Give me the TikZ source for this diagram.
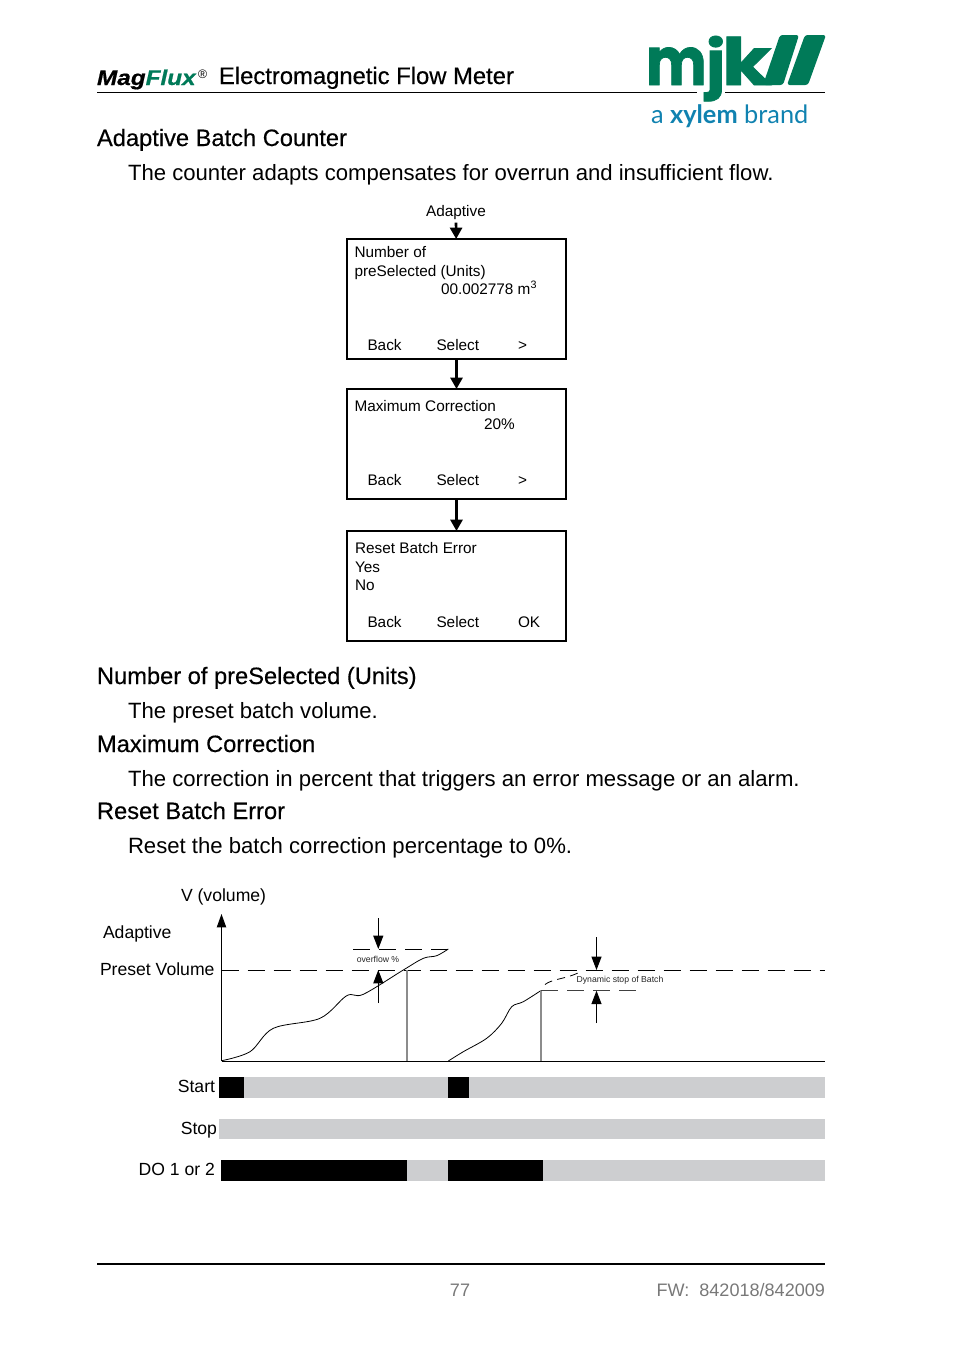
\documentclass[tikz,border=0pt]{standalone}
\usepackage{fontspec}
\setmainfont{Liberation Sans}
\newfontfamily\headfont[FakeBold=0.4]{Liberation Sans}
\newfontfamily\logofont[FakeBold=1.2]{Poppins}
\newfontfamily\brandfont[FakeBold=0.6]{Liberation Sans}
\newfontfamily\xylemfont{Lato}
\usetikzlibrary{arrows.meta}
\definecolor{mjkgreen}{RGB}{0,122,88}
\definecolor{xylemblue}{RGB}{16,130,176}
\definecolor{bargrey}{RGB}{205,206,208}
\definecolor{footgrey}{RGB}{120,120,120}
\tikzset{
  every node/.style={inner sep=0pt, outer sep=0pt},
  pagehead/.style={anchor=base west, font=\headfont\fontsize{17.75}{20}\selectfont},
  pagetext/.style={anchor=base west, font=\fontsize{16.6}{20}\selectfont},
  boxtext/.style={anchor=base west, font=\fontsize{11.5}{14}\selectfont},
  chartlabel/.style={font=\fontsize{13.2}{15}\selectfont},
  tinylabel/.style={font=\fontsize{6.5}{8}\selectfont, text=black!85},
  logoletter/.style={anchor=base west, text=mjkgreen, text depth=0pt, font=\logofont\bfseries\fontsize{50}{50}\selectfont},
  menubox/.style={draw, line width=1.5pt, minimum width=164pt},
  flowarrow/.style={line width=2pt, -{Triangle[length=8.5pt, width=9pt]}},
  markarrow/.style={line width=.7pt, -{Triangle[length=10pt, width=7.5pt]}},
  curveline/.style={line width=.6pt, line join=round},
  presetdash/.style={line width=.7pt, dash pattern=on 12.75pt off 6.75pt},
  cutline/.style={line width=1pt, black!45},
  barrow/.style={fill=bargrey},
  baron/.style={fill=black}
}
\begin{document}
\begin{tikzpicture}[x=.75pt, y=-.75pt]
  \useasboundingbox (0,0) rectangle (954,1354);

  % header
  \node[anchor=base west, font=\brandfont\fontsize{16}{18}\selectfont\bfseries\itshape] (brand) at (97,85)
    {\scalebox{1.14}[1]{Mag\textcolor{mjkgreen}{Flux}}};
  \node[anchor=base west, font=\fontsize{9.2}{10}\selectfont] (regmark) at (198,78) {®};
  \node[pagehead, font=\headfont\fontsize{17.85}{20}\selectfont] (title) at (219,84) {Electromagnetic Flow Meter};
  \coordinate (ruleA) at (97,92);
  \coordinate (ruleB) at (697,92);
  \coordinate (ruleC) at (725,92);
  \coordinate (ruleD) at (825,92);
  \draw[line width=.75pt] (ruleA) -- (ruleB) (ruleC) -- (ruleD);

  % logo
  \node[logoletter] (logom) at (646,85) {\scalebox{.86}[1]{m}};
  \node[logoletter] (logoj) at (706,85) {\scalebox{1}[.92]{j}};
  \node[logoletter] (logok) at (722,85) {\scalebox{1.2}[.98]{k}};
  \fill[mjkgreen, rounded corners=2pt] (780,35) -- (799,35) -- (783,85) -- (763,85) -- cycle;
  \fill[mjkgreen, rounded corners=2pt] (805,35) -- (826,35) -- (808,85) -- (787,85) -- cycle;
  \node[anchor=base west, text=xylemblue, font=\xylemfont\fontsize{19}{20}\selectfont] (xylem) at (651,123)
    {a \textbf{xylem} brand};

  % page text
  \node[pagehead] (headbatch) at (97,146) {Adaptive Batch Counter};
  \node[pagetext] (textbatch) at (128,180) {The counter adapts compensates for overrun and insufficient flow.};
  \node[pagehead] (headunits) at (97,684) {Number of preSelected (Units)};
  \node[pagetext] (textunits) at (128,718) {The preset batch volume.};
  \node[pagehead] (headmax) at (97,752) {Maximum Correction};
  \node[pagetext] (textmax) at (128,786) {The correction in percent that triggers an error message or an alarm.};
  \node[pagehead] (headreset) at (97,819) {Reset Batch Error};
  \node[pagetext] (textreset) at (128,853) {Reset the batch correction percentage to 0\%.};

  % menu flow
  \node[anchor=base, font=\fontsize{11.5}{14}\selectfont] (adaptive) at (456,216) {Adaptive};
  \node[menubox, minimum height=90pt] (number) at (456.5,299) {};
  \node[menubox, minimum height=82.5pt] (maxcorr) at (456.5,444) {};
  \node[menubox, minimum height=82.5pt] (resetbox) at (456.5,586) {};
  \draw[flowarrow, shorten <=2.5pt] (adaptive) -- (number);
  \draw[flowarrow] (number) -- (maxcorr);
  \draw[flowarrow] (maxcorr) -- (resetbox);

  \node[boxtext] (numA) at (354.5,257) {Number of};
  \node[boxtext] (numB) at (354.5,276) {preSelected (Units)};
  \node[boxtext] (numC) at (441,294) {00.002778 m\textsuperscript{3}};
  \node[boxtext] (maxA) at (354.5,411) {Maximum Correction};
  \node[boxtext] (maxB) at (484,429) {20\%};
  \node[boxtext] (resA) at (355,553) {Reset Batch Error};
  \node[boxtext] (resB) at (355,572) {Yes};
  \node[boxtext] (resC) at (355,590) {No};
  \foreach \y/\name/\last in {350/a/>, 485/b/>, 627/c/OK} {
    \node[boxtext] (back\name) at (367.5,\y) {Back};
    \node[boxtext] (select\name) at (436.5,\y) {Select};
    \node[boxtext] (soft\name) at (518,\y) {\last};
  }

  % chart labels
  \node[chartlabel, anchor=base west] (vlabel) at (181,901) {V (volume)};
  \node[chartlabel, anchor=base west] (adlabel) at (103,938) {Adaptive};
  \node[chartlabel, anchor=base west] (prlabel) at (100,975) {Preset Volume};
  \node[chartlabel, anchor=base east] (startlabel) at (215,1092) {Start};
  \node[chartlabel, anchor=base east] (stoplabel) at (217,1134) {Stop};
  \node[chartlabel, anchor=base east] (dolabel) at (215,1175) {DO 1 or 2};

  % axes
  \coordinate (origin) at (221.5,1061);
  \coordinate (axistop) at (221.5,914);
  \coordinate (axisend) at (825,1061);
  \coordinate (presetA) at (221.5,970);
  \coordinate (presetB) at (825,970);
  \draw[line width=.7pt, -{Triangle[length=10pt, width=7pt]}] (origin) -- (axistop);
  \draw[line width=.75pt] (origin) -- (axisend);
  \draw[presetdash] (presetA) -- (presetB);

  % first batch
  \draw[curveline] plot[smooth, tension=.55] coordinates {(221.7,1060.7) (250,1051.7) (273.3,1028.3)
    (320,1018.3) (346.7,995.7) (363.3,994.3) (403.3,970) (423.3,958.3) (436.7,955.7) (448.3,949)};
  \coordinate (cutA) at (407,970);
  \coordinate (cutAb) at (407,1061);
  \draw[cutline] (cutA) -- (cutAb);
  \coordinate (overA) at (353,949);
  \coordinate (overB) at (449,949);
  \draw[presetdash] (overA) -- (overB);
  \node[tinylabel] (overflow) at (378,959) {overflow \%};
  \coordinate (ovtop) at (378.3,918);
  \coordinate (ovtip) at (378.3,949);
  \coordinate (ovlow) at (378.3,1003);
  \coordinate (ovtipb) at (378.3,970);
  \draw[markarrow] (ovtop) -- (ovtip);
  \draw[markarrow] (ovlow) -- (ovtipb);

  % second batch
  \draw[curveline] plot[smooth, tension=.55] coordinates {(448.3,1061) (463.3,1051.7) (486.7,1038.3)
    (501.7,1023.3) (511.7,1006.7) (523.3,1001.7) (540.7,990.7)};
  \draw[curveline, dash pattern=on 6pt off 4pt] (545,984.5) .. controls (552,979) and (565,979) .. (578,973);
  \coordinate (cutB) at (541,990.7);
  \coordinate (cutBb) at (541,1061);
  \draw[cutline] (cutB) -- (cutBb);
  \coordinate (stopA) at (541,990.7);
  \coordinate (stopB) at (640,990.7);
  \draw[presetdash, black!75] (stopA) -- (stopB);
  \node[tinylabel] (dynamic) at (620,980) {Dynamic stop of Batch};
  \coordinate (dytop) at (596.5,937);
  \coordinate (dytip) at (596.5,970);
  \coordinate (dylow) at (596.5,1023);
  \coordinate (dytipb) at (596.5,990.7);
  \draw[markarrow] (dytop) -- (dytip);
  \draw[markarrow] (dylow) -- (dytipb);

  % signal bars
  \fill[barrow] (219,1077) rectangle (825,1098);
  \fill[baron] (219,1077) rectangle (244,1098);
  \fill[baron] (448,1077) rectangle (469,1098);
  \fill[barrow] (219,1119) rectangle (825,1139);
  \fill[barrow] (221,1160) rectangle (825,1181);
  \fill[baron] (221,1160) rectangle (407,1181);
  \fill[baron] (448,1160) rectangle (543,1181);

  % footer
  \coordinate (footA) at (97,1264);
  \coordinate (footB) at (825,1264);
  \draw[line width=1.2pt] (footA) -- (footB);
  \node[text=footgrey, font=\fontsize{13.55}{16}\selectfont] (pageno) at (460,1290) {77};
  \node[text=footgrey, anchor=base east, font=\fontsize{13.55}{16}\selectfont] (fwlabel) at (825,1296) {FW:\ \ 842018/842009};
\end{tikzpicture}
\end{document}
